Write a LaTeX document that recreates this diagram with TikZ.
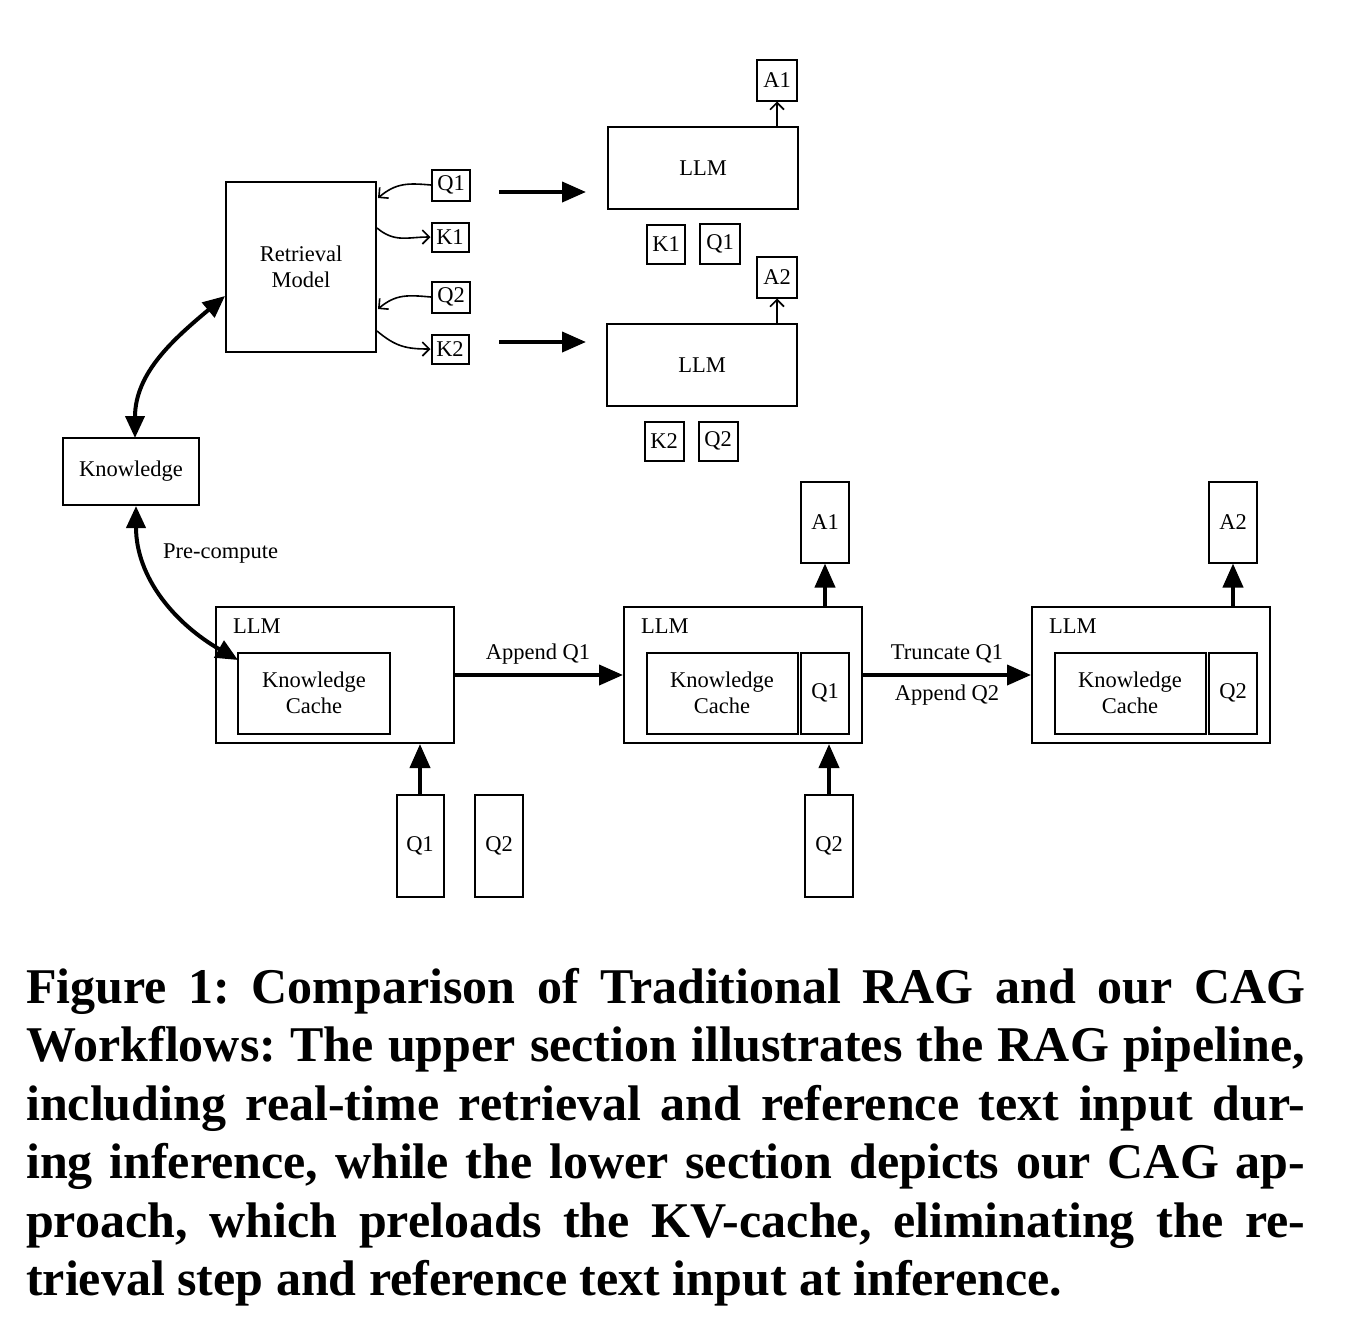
\documentclass[tikz,border=0pt]{standalone}
\usepackage{fontspec}
\setmainfont{Liberation Serif}
\usetikzlibrary{arrows.meta,calc}
\begin{document}
\frenchspacing
\begin{tikzpicture}[x=1pt,y=-1pt,
  lbl/.style={font=\fontsize{22.5}{26}\selectfont,inner sep=0pt},
  box/.style={draw,line width=2pt,inner sep=0pt,align=center,font=\fontsize{22.5}{26}\selectfont},
  thinarr/.style={line width=1.6pt,-{Straight Barb[length=7pt,width=14pt,line width=1.6pt]}},
  thickarr/.style={line width=4pt,-{Triangle[length=24pt,width=20pt]}},
  dblarr/.style={line width=4pt,{Triangle[length=22pt,width=19pt]}-{Triangle[length=22pt,width=19pt]}},
  capline/.style={anchor=base west,inner sep=0pt,font=\bfseries\fontsize{50}{58}\selectfont}
]
\useasboundingbox (0,0) rectangle (1350,1334);

% ---------- RAG part ----------
\node[box,minimum width=150pt,minimum height=170pt] (ret) at (301,267) {Retrieval\\Model};
\node[box,minimum width=38pt,minimum height=31pt] (q1s) at (451,185) {Q1};
\node[box,minimum width=37pt,minimum height=29pt] (k1s) at (450,237) {K1};
\node[box,minimum width=38pt,minimum height=31pt] (q2s) at (451,297) {Q2};
\node[box,minimum width=37pt,minimum height=29pt] (k2s) at (450,349) {K2};

\coordinate (rq1) at (378,198);
\coordinate (rk1) at (377,228);
\coordinate (rq2) at (378,309);
\coordinate (rk2) at (377,331);
\draw[thinarr] (q1s.west) to[out=175,in=40,looseness=1.1] (rq1);
\draw[thinarr] (rk1) to[out=-40,in=180,looseness=1.1] (k1s.west);
\draw[thinarr] (q2s.west) to[out=175,in=40,looseness=1.1] (rq2);
\draw[thinarr] (rk2) to[out=-40,in=180,looseness=1.1] (k2s.west);

\node[box,minimum width=190pt,minimum height=82pt] (llmA) at (703,168) {LLM};
\node[box,minimum width=40pt,minimum height=41pt] (a1s) at (777,80) {A1};
\node[box,minimum width=38pt,minimum height=39pt] (k1b) at (666,244) {K1};
\node[box,minimum width=40pt,minimum height=40pt] (q1b) at (720,244) {Q1};
\draw[thinarr] (llmA.north -| a1s.south) -- (a1s.south);

\node[box,minimum width=190pt,minimum height=82pt] (llmB) at (702,365) {LLM};
\node[box,minimum width=40pt,minimum height=41pt] (a2s) at (777,277) {A2};
\node[box,minimum width=39pt,minimum height=39pt] (k2b) at (664,441) {K2};
\node[box,minimum width=39pt,minimum height=39pt] (q2b) at (718,441) {Q2};
\draw[thinarr] (llmB.north -| a2s.south) -- (a2s.south);

\coordinate (ta1) at (499,192);
\coordinate (ta2) at (586,192);
\coordinate (tb1) at (499,342);
\coordinate (tb2) at (586,342);
\draw[thickarr] (ta1) -- (ta2);
\draw[thickarr] (tb1) -- (tb2);

% ---------- Knowledge ----------
\node[box,minimum width=136pt,minimum height=67pt] (know) at (131,471) {Knowledge};
\coordinate (kup) at (135,438);
\coordinate (retl) at (225,296);
\draw[dblarr] (kup) to[out=90,in=220] (retl);

% ---------- CAG part ----------
\node[box,minimum width=238pt,minimum height=136pt] (c1) at (335,675) {};
\node[lbl,anchor=north west] (c1l) at (233,619) {LLM};
\node[box,minimum width=152pt,minimum height=81pt] (kc1) at (314,693) {Knowledge\\Cache};

\node[box,minimum width=238pt,minimum height=136pt] (c2) at (743,675) {};
\node[lbl,anchor=north west] (c2l) at (641,619) {LLM};
\node[box,minimum width=151pt,minimum height=81pt] (kc2) at (722,693) {Knowledge\\Cache};
\node[box,minimum width=48pt,minimum height=81pt] (cq1) at (825,693) {Q1};

\node[box,minimum width=238pt,minimum height=136pt] (c3) at (1151,675) {};
\node[lbl,anchor=north west] (c3l) at (1049,619) {LLM};
\node[box,minimum width=151pt,minimum height=81pt] (kc3) at (1130,693) {Knowledge\\Cache};
\node[box,minimum width=48pt,minimum height=81pt] (cq2) at (1233,693) {Q2};

\coordinate (kdown) at (136,506);
\coordinate (kcin) at (238,660);
\draw[dblarr] (kdown) to[out=-90,in=150] (kcin);
\node[lbl,anchor=west] (pre) at (163,554) {Pre-compute};

\draw[thickarr] (c1.east) -- (c2.west);
\node[lbl] (app1) at (538,654) {Append Q1};
\draw[thickarr] (c2.east) -- (c3.west);
\node[lbl] (trq1) at (947,654) {Truncate Q1};
\node[lbl] (app2) at (947,695) {Append Q2};

\node[box,minimum width=48pt,minimum height=81pt] (ca1) at (825,522) {A1};
\node[box,minimum width=48pt,minimum height=81pt] (ca2) at (1233,522) {A2};
\draw[thickarr] (c2.north -| ca1.south) -- (ca1.south);
\draw[thickarr] (c3.north -| ca2.south) -- (ca2.south);

\node[box,minimum width=47pt,minimum height=102pt] (bq1) at (420,846) {Q1};
\node[box,minimum width=48pt,minimum height=102pt] (bq2) at (499,846) {Q2};
\node[box,minimum width=48pt,minimum height=102pt] (bq3) at (829,846) {Q2};
\draw[thickarr] (bq1.north) -- (bq1.north |- c1.south);
\draw[thickarr] (bq3.north) -- (bq3.north |- c2.south);

% ---------- Caption ----------
\node[capline] (cap1) at (26,1003) {\makebox[1279pt][s]{Figure 1: Comparison of Traditional RAG and our CAG}};
\node[capline] (cap2) at (26,1061) {\makebox[1279pt][s]{Workflows: The upper section illustrates the RAG pipeline,}};
\node[capline] (cap3) at (26,1120) {\makebox[1279pt][s]{including real-time retrieval and reference text input dur-}};
\node[capline] (cap4) at (26,1178) {\makebox[1279pt][s]{ing inference, while the lower section depicts our CAG ap-}};
\node[capline] (cap5) at (26,1237) {\makebox[1279pt][s]{proach, which preloads the KV-cache, eliminating the re-}};
\node[capline] (cap6) at (26,1295) {trieval step and reference text input at inference.};
\end{tikzpicture}
\end{document}
